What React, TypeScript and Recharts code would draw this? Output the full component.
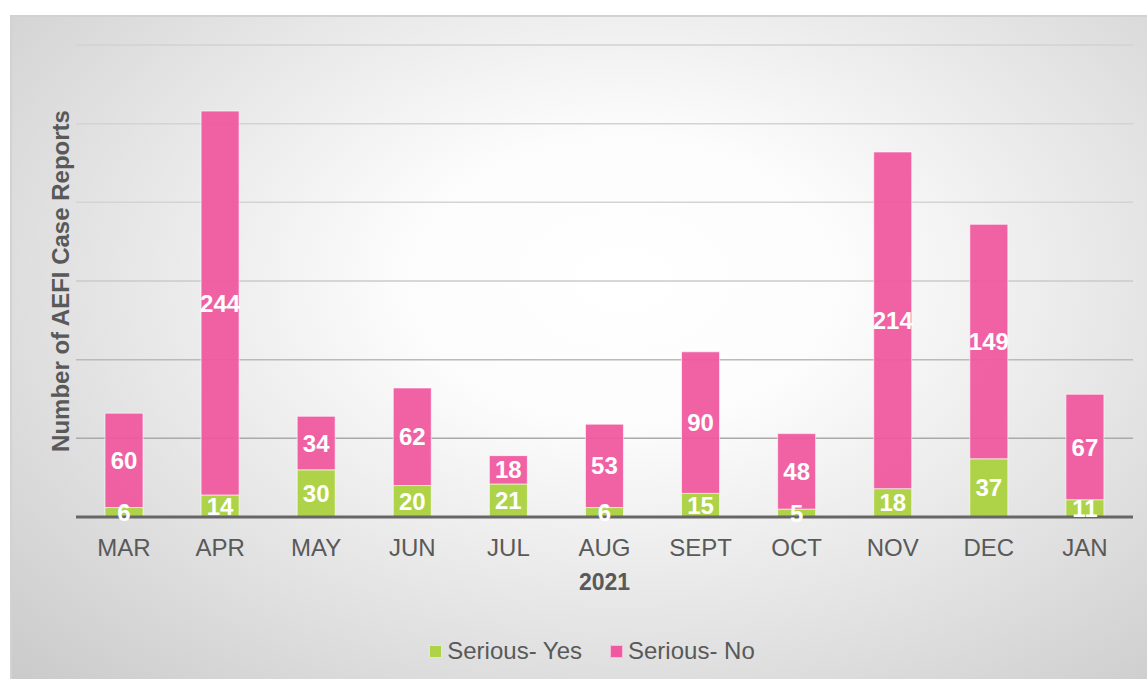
import { Bar, BarChart, CartesianGrid, LabelList, Legend, XAxis, YAxis } from "recharts";

const MONTHS = ["MAR", "APR", "MAY", "JUN", "JUL", "AUG", "SEPT", "OCT", "NOV", "DEC", "JAN"];
const SERIOUS_YES = [6, 14, 30, 20, 21, 6, 15, 5, 18, 37, 11];
const SERIOUS_NO = [60, 244, 34, 62, 18, 53, 90, 48, 214, 149, 67];
const Y_TICKS = [0, 50, 100, 150, 200, 250, 300];

const FONT = '"Liberation Sans", Arial, sans-serif';
const GREEN = "#AED349";
const PINK = "#F0589F";
const TEXT = "#595959";

const SERIES_ORDER = ["yes", "no"];

const data = MONTHS.map((m, i) => ({ month: m, yes: SERIOUS_YES[i], no: SERIOUS_NO[i] }));

function YTitle(props: any) {
  const vb = props.viewBox || { x: 0, y: 30, width: 66, height: 472 };
  const cx = 50;
  const cy = vb.y + vb.height / 2;
  return (
    <text
      x={cx}
      y={cy}
      transform={`rotate(-90, ${cx}, ${cy})`}
      textAnchor="middle"
      dominantBaseline="central"
      fill={TEXT}
      fontWeight="bold"
      fontSize={24}
      fontFamily={FONT}
    >
      Number of AEFI Case Reports
    </text>
  );
}

function LegendContent(props: any) {
  const items = [...(props.payload || [])].sort(
    (a: any, b: any) => SERIES_ORDER.indexOf(a.dataKey) - SERIES_ORDER.indexOf(b.dataKey),
  );
  return (
    <div
      style={{
        height: 31,
        display: "flex",
        justifyContent: "center",
        alignItems: "flex-start",
        gap: 28,
        paddingLeft: 41,
        fontFamily: FONT,
        fontSize: 24,
        color: TEXT,
      }}
    >
      {items.map((it: any) => (
        <span key={it.value} style={{ display: "flex", alignItems: "center", lineHeight: "26px" }}>
          <span
            style={{
              width: 11,
              height: 11,
              background: it.color,
              border: "1px solid rgba(255,255,255,0.6)",
              marginRight: 5,
              display: "inline-block",
            }}
          />
          {it.value}
        </span>
      ))}
    </div>
  );
}

export default function App() {
  return (
    <div
      style={{
        position: "absolute",
        left: 10,
        top: 15,
        width: 1137,
        height: 664,
        background:
          "radial-gradient(ellipse 78% 88% at 54% 40%, #ffffff 0%, #fcfcfc 25%, #e4e4e4 60%, #c8c8c8 100%)",
        boxShadow: "inset 2px 2px 0 #d2d2d2",
        fontFamily: FONT,
      }}
    >
      {/* grid lines fade out toward the top */}
      <svg width={0} height={0} style={{ position: "absolute" }}>
        <defs>
          <linearGradient id="gridFade" gradientUnits="userSpaceOnUse" x1={0} y1={30} x2={0} y2={502}>
            <stop offset="0%" stopColor="#d2d2d2" />
            <stop offset="40%" stopColor="#d4d4d4" />
            <stop offset="100%" stopColor="#999999" />
          </linearGradient>
        </defs>
      </svg>
      <BarChart
        width={1137}
        height={664}
        data={data}
        margin={{ top: 30, right: 14, left: 0, bottom: 10 }}
        barSize={38}
      >
        <CartesianGrid vertical={false} stroke="url(#gridFade)" strokeWidth={1.5} />
        <YAxis
          domain={[0, 300]}
          ticks={Y_TICKS}
          width={66}
          tick={() => <g />}
          tickLine={false}
          axisLine={false}
          label={{ content: (p: any) => <YTitle {...p} /> }}
        />
        <XAxis
          dataKey="month"
          height={121}
          tickSize={0}
          tickMargin={22}
          tickLine={false}
          axisLine={{ stroke: "#666666", strokeWidth: 3 }}
          tick={{ fill: TEXT, fontSize: 24, fontFamily: FONT }}
          label={{
            value: "2021",
            position: "insideBottom",
            offset: 48,
            style: { fill: TEXT, fontSize: 23, fontWeight: "bold", fontFamily: FONT },
          }}
        />
        <Legend verticalAlign="bottom" content={(p: any) => <LegendContent {...p} />} />
        <Bar
          dataKey="yes"
          name="Serious- Yes"
          stackId="a"
          fill={GREEN}
          stroke="rgba(255,255,255,0.6)"
          strokeWidth={1}
          isAnimationActive={false}
        >
          <LabelList
            dataKey="yes"
            position="center"
            fill="#ffffff"
            fontSize={24}
            fontWeight="bold"
            fontFamily={FONT}
          />
        </Bar>
        <Bar
          dataKey="no"
          name="Serious- No"
          stackId="a"
          fill={PINK}
          fillOpacity={0.94}
          stroke="rgba(255,255,255,0.6)"
          strokeWidth={1}
          isAnimationActive={false}
        >
          <LabelList
            dataKey="no"
            position="center"
            fill="#ffffff"
            fontSize={24}
            fontWeight="bold"
            fontFamily={FONT}
          />
        </Bar>
      </BarChart>
    </div>
  );
}
